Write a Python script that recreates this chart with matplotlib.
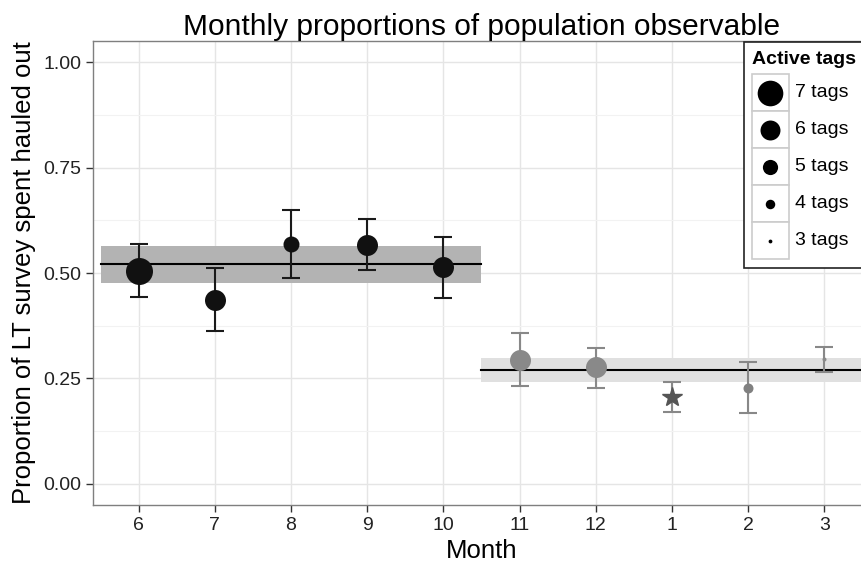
import numpy as np
import matplotlib.pyplot as plt
from matplotlib.patches import Rectangle
from matplotlib.lines import Line2D

plt.rcParams['font.family'] = ['Liberation Sans', 'DejaVu Sans']

# data
months = ['6', '7', '8', '9', '10', '11', '12', '1', '2', '3']
prop = [0.505, 0.436, 0.569, 0.566, 0.514, 0.294, 0.276, 0.205, 0.228, 0.295]
lower = [0.443, 0.363, 0.488, 0.507, 0.441, 0.231, 0.227, 0.171, 0.167, 0.265]
upper = [0.569, 0.512, 0.649, 0.628, 0.585, 0.357, 0.323, 0.242, 0.288, 0.325]
tags = [7, 6, 5, 6, 6, 6, 6, 5, 4, 3]
group = [0, 0, 0, 0, 0, 1, 1, 1, 1, 1]

group_mean = [0.521, 0.269]
group_lo = [0.476, 0.241]
group_hi = [0.564, 0.298]
group_span = [(0.5, 5.5), (5.5, 10.5)]

legend_tags = [7, 6, 5, 4, 3]

# marker diameter in pixels per number of tags
size_px = {7: 27, 6: 21, 5: 16, 4: 10, 3: 4}
px2pt = 0.72

W, H = 862, 563
fig = plt.figure(figsize=(W / 100, H / 100), dpi=100)
ax = fig.add_axes([93 / W, (H - 505) / H, (870 - 93) / W, (505 - 41) / H])

x = np.arange(1, len(months) + 1)

# bands behind the group means
band_cols = ['#b3b3b3', '#e0e0e0']
for g in range(2):
    x0, x1 = group_span[g]
    ax.fill_between([x0, x1], group_lo[g], group_hi[g], color=band_cols[g],
                    lw=0, zorder=2)

# grid
for yy in np.arange(0.125, 1.0, 0.25):
    ax.axhline(yy, color='#f2f2f2', lw=0.8, zorder=1)
ax.grid(True, color='#e5e5e5', lw=1.0, zorder=1)
ax.set_axisbelow(True)

for g in range(2):
    x0, x1 = group_span[g]
    ax.plot([x0, x1], [group_mean[g]] * 2, color='black', lw=1.5, zorder=3)

err_cols = ['#1a1a1a', '#888888']
pt_cols = ['#111111', '#898989']
for i in range(len(months)):
    g = group[i]
    ax.errorbar(x[i], prop[i],
                yerr=[[prop[i] - lower[i]], [upper[i] - prop[i]]],
                fmt='none', ecolor=err_cols[g], elinewidth=1.5,
                capsize=6.8, capthick=1.5, zorder=4)
    if months[i] == '1':
        ax.plot(x[i], prop[i], marker='*', ms=15 * px2pt * 1.35,
                color='#555555', zorder=5, ls='none')
    else:
        col = pt_cols[g]
        if months[i] == '2':
            col = '#808080'
        ax.plot(x[i], prop[i], marker='o', ms=size_px[tags[i]] * px2pt,
                color=col, mec='none', zorder=5, ls='none')

ax.set_xlim(0.4, 10.6)
ax.set_ylim(-0.05, 1.05)
ax.set_xticks(x)
ax.set_xticklabels(months)
ax.set_yticks([0, 0.25, 0.5, 0.75, 1.0])
ax.set_yticklabels(['0.00', '0.25', '0.50', '0.75', '1.00'])
ax.tick_params(colors='#333333', labelsize=14, length=5, width=1,
               labelcolor='#222222')
ax.tick_params(axis='x', pad=4)
for s in ax.spines.values():
    s.set_color('#7f7f7f')
    s.set_linewidth(1)

ax.set_title('Monthly proportions of population observable', fontsize=21.5,
             pad=4)
ax.set_xlabel('Month', fontsize=18.5, labelpad=3)
ax.set_ylabel('Proportion of LT survey spent hauled out', fontsize=18.5,
              labelpad=5)

# legend drawn by hand in pixel coordinates
lax = fig.add_axes([0, 0, 1, 1])
lax.set_xlim(0, W)
lax.set_ylim(H, 0)
lax.axis('off')
lax.add_patch(Rectangle((744, 42), 200, 226, facecolor='white',
                        edgecolor='#222222', lw=1.2))
lax.text(752, 59, 'Active tags', fontsize=14, fontweight='bold',
         va='center', ha='left')
row_top = 74
row_h = 37
for k, t in enumerate(legend_tags):
    y0 = row_top + k * row_h
    lax.add_patch(Rectangle((752, y0), 37, row_h, facecolor='white',
                            edgecolor='#cccccc', lw=1.2))
    lax.add_line(Line2D([770.5], [y0 + row_h / 2], marker='o',
                        ms=size_px[t] * px2pt * 0.95, color='black',
                        mec='none'))
    lax.text(795, y0 + row_h / 2, f'{t} tags', fontsize=14,
             va='center', ha='left')

fig.savefig('out.png', dpi=100)
